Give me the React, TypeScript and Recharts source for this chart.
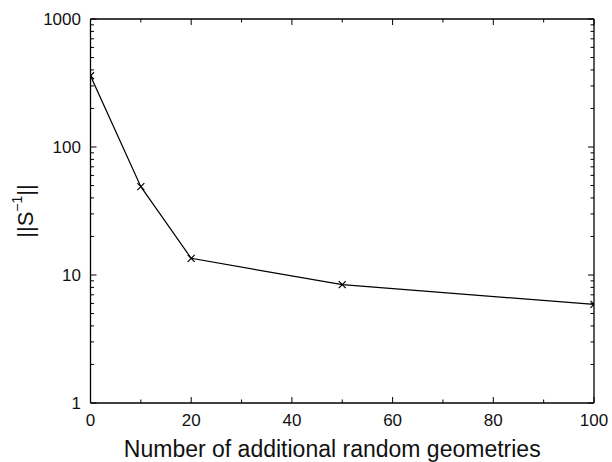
import React from 'react';
import { LineChart, Line, XAxis, YAxis, Label } from 'recharts';

const xValues = [0, 10, 20, 50, 100];
const normValues = [360, 49, 13.5, 8.4, 5.9];

const xTicks = [0, 10, 20, 30, 40, 50, 60, 70, 80, 90, 100];
const xMajor = [0, 20, 40, 60, 80, 100];
const yTicks = [1, 2, 3, 4, 5, 6, 7, 8, 9, 10, 20, 30, 40, 50, 60, 70, 80, 90, 100, 200, 300, 400, 500, 600, 700, 800, 900, 1000];
const yMajor = [1, 10, 100, 1000];

const data = xValues.map((x, i) => ({ x, y: normValues[i] }));

const FONT = '"Liberation Sans", Arial, Helvetica, sans-serif';
const MAJOR = 6;
const MINOR = 3.5;
const TS = 0.001;

const makeTick = (side: 'left' | 'right' | 'top' | 'bottom') => (props: any) => {
  const { x, y, payload } = props;
  const v = payload.value;
  const major = side === 'left' || side === 'right' ? yMajor.includes(v) : xMajor.includes(v);
  const len = major ? MAJOR : MINOR;
  let line;
  if (side === 'left') line = <line x1={x} y1={y} x2={x + len} y2={y} stroke="#000" strokeWidth={1} />;
  else if (side === 'right') line = <line x1={x} y1={y} x2={x - len} y2={y} stroke="#000" strokeWidth={1} />;
  else if (side === 'bottom') line = <line x1={x} y1={y} x2={x} y2={y - len} stroke="#000" strokeWidth={1} />;
  else line = <line x1={x} y1={y} x2={x} y2={y + len} stroke="#000" strokeWidth={1} />;
  let label = null;
  if (major && side === 'left') {
    label = (
      <text x={x - 9.5} y={y + 6} textAnchor="end" fontSize={17} fontFamily={FONT} fill="#111">
        {v}
      </text>
    );
  } else if (major && side === 'bottom') {
    label = (
      <text x={x} y={y + 23} textAnchor="middle" fontSize={17} fontFamily={FONT} fill="#111">
        {v}
      </text>
    );
  }
  return (
    <g>
      {line}
      {label}
    </g>
  );
};

const CrossDot = (props: any) => {
  const { cx, cy, index } = props;
  if (cx == null || cy == null) return <g key={`d${index}`} />;
  const s = 3.5;
  return (
    <g key={`d${index}`}>
      <line x1={cx - s} y1={cy - s} x2={cx + s} y2={cy + s} stroke="#000" strokeWidth={1.2} />
      <line x1={cx - s} y1={cy + s} x2={cx + s} y2={cy - s} stroke="#000" strokeWidth={1.2} />
    </g>
  );
};

const YLabel = (props: any) => {
  const vb = props.viewBox || {};
  const cx = 25;
  const cy = vb.y + vb.height / 2;
  return (
    <text
      x={cx}
      y={cy}
      transform={`rotate(-90 ${cx} ${cy})`}
      textAnchor="middle"
      fontSize={22}
      fontFamily={FONT}
      fill="#111"
      dominantBaseline="central"
    >
      <tspan>||S</tspan>
      <tspan fontSize={14} dy={-8}>−1</tspan>
      <tspan dy={8}>||</tspan>
    </text>
  );
};

export default function App() {
  return (
    <div style={{ position: 'absolute', left: 0, top: 0, width: 612, height: 462, background: '#fff' }}>
      <LineChart
        width={612}
        height={462}
        data={data}
        margin={{ top: 18, right: 17, bottom: 58, left: 0 }}
      >
        <XAxis
          xAxisId="bottom"
          dataKey="x"
          type="number"
          domain={[0, 100]}
          ticks={xTicks}
          interval={0}
          orientation="bottom"
          height={1}
          tickSize={TS}
          tickMargin={TS}
          tickLine={false}
          axisLine={{ stroke: '#000', strokeWidth: 1.3 }}
          tick={makeTick('bottom')}
          allowDataOverflow
        >
          <Label
            value="Number of additional random geometries"
            position="bottom"
            offset={37}
            dx={-10}
            fontSize={23}
            fontFamily={FONT}
            fill="#111"
          />
        </XAxis>
        <XAxis
          xAxisId="top"
          dataKey="x"
          type="number"
          domain={[0, 100]}
          ticks={xTicks}
          interval={0}
          orientation="top"
          height={1}
          tickSize={TS}
          tickMargin={TS}
          tickLine={false}
          axisLine={{ stroke: '#000', strokeWidth: 1.3 }}
          tick={makeTick('top')}
          allowDataOverflow
        />
        <YAxis
          yAxisId="left"
          type="number"
          scale="log"
          domain={[1, 1000]}
          ticks={yTicks}
          interval={0}
          orientation="left"
          width={90.5}
          tickSize={TS}
          tickMargin={TS}
          tickLine={false}
          axisLine={{ stroke: '#000', strokeWidth: 1.3 }}
          tick={makeTick('left')}
          allowDataOverflow
        >
          <Label content={YLabel} />
        </YAxis>
        <YAxis
          yAxisId="right"
          type="number"
          scale="log"
          domain={[1, 1000]}
          ticks={yTicks}
          interval={0}
          orientation="right"
          width={1}
          tickSize={TS}
          tickMargin={TS}
          tickLine={false}
          axisLine={{ stroke: '#000', strokeWidth: 1.3 }}
          tick={makeTick('right')}
          allowDataOverflow
        />
        <Line
          xAxisId="bottom"
          yAxisId="left"
          dataKey="y"
          type="linear"
          stroke="#000"
          strokeWidth={1.2}
          dot={CrossDot}
          activeDot={false}
          isAnimationActive={false}
        />
      </LineChart>
    </div>
  );
}
